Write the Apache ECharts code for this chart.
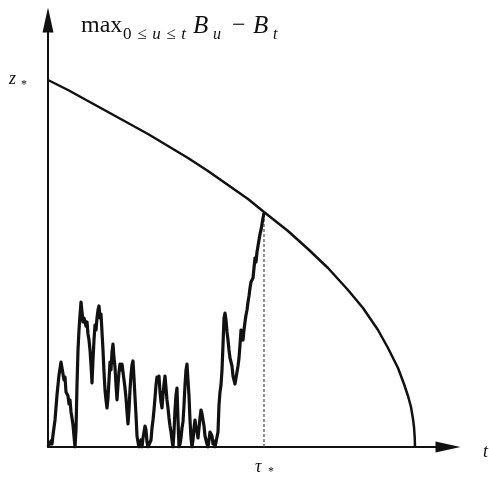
<!DOCTYPE html>
<html>
<head>
<meta charset="utf-8">
<script src="https://cdn.jsdelivr.net/npm/echarts@6/dist/echarts.min.js"></script>
<style>html,body{margin:0;padding:0;background:#fff;}#c{width:489px;height:484px;}</style>
</head>
<body>
<div id="c"></div>
<script>
// Boundary curve z(t) (arbitrary units)
var curveT = [0, 20, 40, 60, 80, 100, 120, 140, 160, 180, 200, 216, 240, 260, 280, 300, 315, 330, 340, 350, 356, 360, 363, 365, 366, 366.7, 367];
var curveZ = [367, 357, 346, 335, 324, 313, 301, 289, 276, 262, 248, 235, 216, 198, 179, 157, 139, 117, 99, 79, 63, 51, 40, 28, 20, 10, 0];

// Reflected Brownian path  max B_u - B_t
var pathT = [0,2,3,4,5,7,9,11,13,14,16,17,18,20,21,22,23,24,25,26,27,28,29,30,31,32,33,34,35,36,38,39,40,41,42,43,44,45,46,47,48,49,50,51,52,53,54,55,56,57,58,59,60,61,62,63,64,65,66,67,68,69,70,71,72,73,74,75,76,77,78,79,80,81,82,83,84,85,86,87,88,89,90,91,92,93,94,95,96,97,98,99,100,102,103,104,105,106,107,108,109,110,111,112,113,114,115,116,117,118,119,120,121,122,123,124,125,126,127,128,129,130,131,132,133,134,135,136,137,138,139,140,141,142,143,144,145,146,147,148,149,150,151,152,153,154,155,156,157,158,159,160,161,162,163,164,165,166,167,168,169,170,171,172,173,174,175,176,177,178,179,180,181,182,183,184,185,186,187,188,189,190,191,192,193,194,195,196,197,198,199,200,201,202,203,204,205,206,207,208,209,210,211,212,213,214,215,216];
var pathZ = [0,0,6,3,12,27,52,72,85,79,67,70,55,51,43,47,35,29,22,11,0,17,62,97,117,132,145,135,125,129,121,125,113,107,97,82,64,87,107,122,117,129,137,141,129,133,115,97,75,57,47,39,49,67,85,77,95,103,89,80,62,47,62,75,83,77,83,75,67,59,49,35,23,37,57,72,82,86,69,50,32,11,5,0,1,7,0,9,15,21,17,5,0,0,7,19,27,37,49,62,70,65,71,55,45,39,52,63,71,59,47,39,29,21,15,7,0,15,37,52,59,27,0,3,9,19,25,42,62,77,83,67,51,27,9,0,7,19,27,19,15,9,19,29,37,33,27,21,11,7,3,0,7,15,17,11,3,6,0,0,0,15,42,55,62,77,102,129,134,127,115,107,97,89,85,81,71,67,63,69,75,81,89,102,117,111,107,117,125,132,137,145,151,159,165,163,169,179,189,185,195,201,207,213,217,223,229,234];

// Stopping time tau_* and level where the path meets the boundary
var tauStar = 216;
var hitLevel = [0, 234];

var curveData = curveT.map(function (t, i) { return [t, curveZ[i]]; });
var pathData = pathT.map(function (t, i) { return [t, pathZ[i]]; });
var dashData = hitLevel.map(function (z) { return [tauStar, z]; });

var serif = '"Liberation Serif", "DejaVu Serif", serif';
function txt(x, y, text, size, italic, rich) {
  var st = {
    text: text,
    x: x, y: y,
    font: (italic ? 'italic ' : '') + size + 'px ' + serif,
    fill: '#111',
    verticalAlign: 'top'
  };
  if (rich) st.rich = rich;
  return { type: 'text', style: st, z: 100 };
}

var chart = echarts.init(document.getElementById('c'));
chart.setOption({
  backgroundColor: '#ffffff',
  animation: false,
  grid: { left: 48, right: 41, top: 20, bottom: 37, containLabel: false },
  xAxis: {
    type: 'value', min: 0, max: 400,
    axisLine: { show: true, onZero: false, symbol: ['none', 'triangle'], symbolSize: [11, 25], lineStyle: { color: '#111', width: 2 } },
    axisTick: { show: false }, axisLabel: { show: false }, splitLine: { show: false }
  },
  yAxis: {
    type: 'value', min: 0, max: 427,
    axisLine: { show: true, onZero: false, symbol: ['none', 'triangle'], symbolSize: [11, 25], lineStyle: { color: '#111', width: 2 } },
    axisTick: { show: false }, axisLabel: { show: false }, splitLine: { show: false }
  },
  series: [
    { type: 'line', data: curveData, showSymbol: false, symbol: 'none', lineStyle: { color: '#111', width: 2.5 }, z: 3 },
    { type: 'line', data: pathData, showSymbol: false, symbol: 'none', lineStyle: { color: '#111', width: 3.2, join: 'round' }, z: 4 },
    { type: 'line', data: dashData, showSymbol: false, symbol: 'none', lineStyle: { color: '#555', width: 1.3, type: [3, 2] }, z: 2 }
  ],
  graphic: [
    txt(81, 14, 'max', 24, false),
    txt(123, 26, '0\u200A ≤ \u200A{i|u}\u200A ≤ \u200A{i|t}', 17, false, { i: { fontStyle: 'italic', fontSize: 17, fontFamily: serif } }),
    txt(193, 14, 'B', 25, true),
    txt(213, 27, 'u', 16, true),
    txt(232, 14, '−', 24, false),
    txt(253, 14, 'B', 25, true),
    txt(273, 27, 't', 16, true),
    txt(9, 70, 'z', 18, true),
    txt(21, 79, '*', 12, false),
    txt(255, 458, 'τ', 18, true),
    txt(268, 466, '*', 12, false),
    txt(483, 443, 't', 18, true)
  ]
});
</script>
</body>
</html>
